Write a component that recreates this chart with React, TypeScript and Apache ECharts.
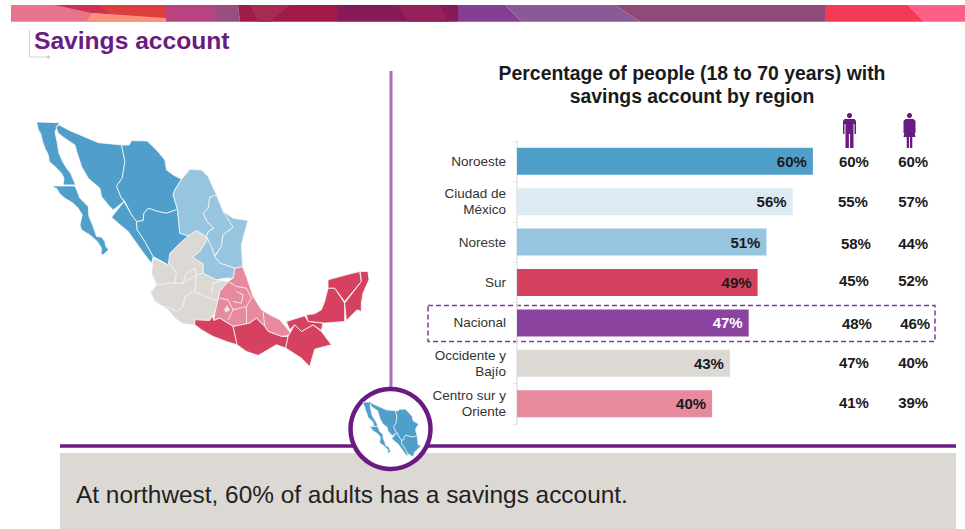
import React, { useEffect, useRef } from "react";
import * as echarts from "echarts";

const categories = ["Noroeste", "Ciudad de\nMéxico", "Noreste", "Sur", "Nacional", "Occidente y\nBajío", "Centro sur y\nOriente"];
// bar lengths; their labels show them rounded
const totals = [59.9, 55.8, 50.5, 48.7, 46.9, 43.1, 39.5];
const men = [60, 55, 58, 45, 48, 47, 41];
const women = [60, 57, 44, 52, 46, 40, 39];
const barColors = ["#4f9fca", "#dbeaf3", "#97c5df", "#d5415e", "#8a44a0", "#dcd9d5", "#e88a9e"];
const labelColors = ["#1a1a1a", "#1a1a1a", "#1a1a1a", "#1a1a1a", "#ffffff", "#1a1a1a", "#1a1a1a"];

const FONT = '"Liberation Sans", Arial, sans-serif';
const PURPLE = "#6a1b82";
const BLUE = "#4f9fca", LIGHT = "#97c5df", GREY = "#dcd9d5", PINK = "#e88a9e", RED = "#d5415e";

// hand placement of the side columns' labels in the source slide
const rowNudgeY = [0, 0, 1, -2, 1, -1, -1];
const menNudgeX = [0, -1, 2, 0, 3, 0, 0];
const womenNudgeX = [0, 0, 0, 0, 2, 0, 0];

// map outlines, decorative artwork, in a 3x drawing space
const northwest: number[][][] = [
  [[50,36],[118,38],[105,65],[112,100],[117,130],[128,155],[140,175],[152,190],[158,205],[167,225],[130,225],[132,205],[125,190],[105,170],[88,155],[85,135],[75,115],[68,95],[62,70],[55,60]],
  [[97,228],[165,228],[172,245],[180,265],[195,280],[205,290],[207,320],[218,345],[230,380],[245,382],[255,395],[257,408],[266,420],[250,435],[243,432],[245,415],[232,395],[210,375],[185,360],[180,345],[187,315],[175,295],[160,280],[135,265],[118,250],[112,238]],
  [[108,50],[118,45],[150,62],[235,98],[305,105],[315,155],[307,205],[290,228],[303,262],[312,275],[280,300],[265,285],[245,260],[240,235],[205,205],[185,170],[172,130],[165,105],[135,85],[115,70]],
  [[305,105],[328,105],[335,92],[382,93],[410,120],[435,150],[440,180],[460,195],[485,208],[465,240],[460,255],[473,298],[440,310],[415,305],[385,295],[372,310],[370,332],[350,335],[335,315],[315,275],[303,262],[290,228],[307,205],[315,155]],
  [[275,322],[312,275],[335,315],[350,335],[352,360],[375,395],[400,440],[395,460],[375,435],[350,400],[325,365],[295,340]],
  [[350,335],[370,332],[372,310],[385,295],[415,305],[440,310],[473,298],[480,370],[505,378],[470,410],[450,430],[445,465],[400,440],[375,395],[352,360]],
];
const northeast: number[][][] = [
  [[485,208],[510,178],[545,180],[565,200],[590,255],[570,262],[565,295],[550,310],[562,335],[582,355],[565,365],[560,380],[530,362],[505,378],[480,370],[473,298],[460,255],[465,240]],
  [[590,255],[600,280],[610,305],[640,325],[640,352],[610,375],[605,410],[590,430],[585,440],[572,405],[560,380],[565,365],[582,355],[562,335],[550,310],[565,295],[570,262]],
  [[610,305],[640,325],[685,332],[675,365],[665,405],[668,470],[645,475],[600,460],[585,440],[605,410],[610,375],[640,352]],
  [[560,380],[572,405],[585,440],[600,460],[645,475],[640,505],[615,505],[590,510],[550,490],[550,462],[518,442],[540,425],[560,395]],
];
const west: number[][][] = [
  [[505,378],[510,365],[530,362],[560,380],[560,395],[540,425],[518,442],[550,462],[550,490],[590,510],[625,515],[600,545],[595,570],[585,610],[578,618],[570,632],[525,632],[525,645],[490,642],[465,625],[445,600],[430,590],[405,575],[392,548],[410,525],[395,490],[400,445],[445,465],[450,430],[470,410]],
];
const westLines: number[][][] = [
  [[410,525],[450,520],[490,520],[530,495],[550,490]],
  [[450,460],[470,490],[465,520]],
  [[490,520],[500,490],[525,475],[530,495]],
  [[530,495],[525,545],[580,570],[595,570]],
  [[525,545],[495,560],[490,590],[470,605],[440,590],[430,590]],
  [[575,550],[580,520],[610,510]],
];
const center: number[][][] = [
  [[645,475],[668,470],[680,500],[700,560],[725,600],[750,615],[780,630],[815,672],[800,678],[785,680],[745,665],[735,650],[710,625],[690,640],[640,650],[600,625],[582,632],[585,610],[595,570],[600,545],[625,515],[640,505]],
];
const centerLines: number[][][] = [
  [[625,515],[650,530],[680,535],[695,565],[680,590],[640,600]],
  [[600,565],[625,570],[640,600],[625,630]],
  [[650,545],[670,555],[665,580],[640,575]],
  [[680,590],[680,640]],
  [[730,605],[735,650]],
];
const cdmx: number[][][] = [[[622,588],[630,600],[620,608],[613,600]]];
const south: number[][][] = [
  [[525,630],[570,632],[578,618],[582,632],[600,625],[640,650],[652,705],[620,695],[580,680],[545,660],[525,645]],
  [[640,650],[690,640],[710,625],[735,650],[745,665],[785,680],[805,680],[798,715],[770,705],[715,737],[680,725],[652,705]],
  [[805,680],[825,645],[845,665],[880,645],[905,665],[935,705],[885,718],[870,770],[845,745],[798,715]],
  [[800,635],[855,618],[865,635],[910,640],[905,662],[880,645],[845,665],[825,645],[810,660]],
  [[860,615],[885,612],[905,600],[915,575],[925,535],[945,535],[975,580],[975,635],[915,640],[870,635],[865,635]],
  [[925,510],[980,495],[1020,485],[1025,515],[975,575],[945,535],[925,535]],
  [[1022,485],[1045,485],[1048,510],[1030,550],[1025,580],[1025,605],[1012,600],[980,632],[975,580],[1025,515]],
];

const polys = (list: number[][][], fill: string, lineWidth: number) =>
  list.map((points) => ({ type: "polygon", shape: { points }, style: { fill, stroke: "#f4f7f8", lineWidth, lineJoin: "round" } }));
const lines = (list: number[][][], lineWidth: number) =>
  list.map((points) => ({ type: "polyline", shape: { points }, style: { fill: "none", stroke: "#f7f6f4", lineWidth } }));

// header ribbon pieces
const T = 5, B = 21.7;
const ribbon: [number[][], string][] = [
  [[[11,T],[166,T],[166,B],[11,B]], "#e8748c"],
  [[[55,T],[166,T],[166,18],[92,13]], "#cf2f52"],
  [[[98,T],[166,T],[166,18],[110,14]], "#dc3f3c"],
  [[[92,13],[166,18],[166,B],[86,B]], "#fb937c"],
  [[[166,T],[215,T],[215,B],[166,B]], "#b94480"],
  [[[215,T],[238,T],[240,B],[215,B]], "#964f80"],
  [[[238,T],[338,T],[338,B],[240,B]], "#a01a48"],
  [[[250,T],[290,T],[270,B],[258,B]], "#a62c52"],
  [[[338,T],[458,T],[458,B],[338,B]], "#861a56"],
  [[[398,T],[440,T],[448,B],[408,B]], "#95205a"],
  [[[458,T],[505,T],[522,B],[458,B]], "#843e94"],
  [[[505,T],[615,T],[640,B],[522,B]], "#8a5a96"],
  [[[615,T],[825,T],[825,B],[640,B]], "#904a78"],
  [[[825,T],[908,T],[924,B],[825,B]], "#f53a58"],
  [[[908,T],[965,T],[965,B],[924,B]], "#fd5f86"],
];

const person = (cx: number, female: boolean) => ({
  type: "group",
  x: cx,
  y: 113,
  children: [
    { type: "circle", shape: { cx: 0, cy: 2.6, r: 2.6 }, style: { fill: PURPLE } },
    {
      type: "polygon",
      shape: {
        points: female
          ? [[-4,6],[4,6],[6,8],[6,20],[4.5,20],[3.5,12],[6,24],[2.8,24],[2.8,35],[0.5,35],[0.5,24],[-0.5,24],[-0.5,35],[-2.8,35],[-2.8,24],[-6,24],[-3.5,12],[-4.5,20],[-6,20],[-6,8]]
          : [[-5,6],[5,6],[6.5,8],[6.5,21],[5,21],[5,11],[4,11],[4,35],[0.6,35],[0.6,21],[-0.6,21],[-0.6,35],[-4,35],[-4,11],[-5,11],[-5,21],[-6.5,21],[-6.5,8]],
      },
      style: { fill: PURPLE },
    },
  ],
});

const sideSeries = (values: number[], column: number, nudgeX: number[]) => ({
  type: "scatter",
  symbolSize: 0,
  silent: true,
  itemStyle: { opacity: 1 },
  data: values.map((v, i) => ({
    value: [column, i, v],
    label: { offset: [nudgeX[i], rowNudgeY[i]] },
  })),
  label: {
    show: true,
    position: "inside",
    formatter: "{@[2]}%",
    fontFamily: FONT,
    fontSize: 15,
    fontWeight: "bold",
    color: "#1a1a1a",
  },
});

export default function App() {
  const ref = useRef<HTMLDivElement>(null);
  useEffect(() => {
    const chart = echarts.init(ref.current!, null, { renderer: "svg" });
    chart.setOption({
      animation: false,
      backgroundColor: "#ffffff",
      textStyle: { fontFamily: FONT },
      grid: { left: 517, top: 141, width: 444.6, height: 283, containLabel: false },
      xAxis: { type: "value", min: 0, max: 90, show: false },
      yAxis: {
        type: "category",
        inverse: true,
        data: categories,
        axisLine: { show: true, lineStyle: { color: "#e3e3e3", width: 1.5 } },
        axisTick: { show: true, length: 4, lineStyle: { color: "#e3e3e3" } },
        axisLabel: { color: "#333333", fontSize: 13.5, fontFamily: FONT, margin: 11, lineHeight: 16, align: "right" },
        splitLine: { show: false },
      },
      series: [
        {
          type: "bar",
          barWidth: 27,
          data: totals.map((value, i) => ({
            value,
            itemStyle: { color: barColors[i] },
            label: { color: labelColors[i] },
          })),
          label: {
            show: true,
            position: "insideRight",
            distance: 6,
            formatter: (p: any) => `${Math.round(p.value)}%`,
            fontFamily: FONT,
            fontSize: 15,
            fontWeight: "bold",
          },
        },
        sideSeries(men, 68.2, menNudgeX),
        sideSeries(women, 80.2, womenNudgeX),
      ],
      graphic: [
        ...ribbon.map(([points, fill]) => ({ type: "polygon", shape: { points }, style: { fill } })),
        { type: "polyline", shape: { points: [[29.5,30],[29.5,57],[47,57]] }, style: { fill: "none", stroke: "#d5d5d5", lineWidth: 1 } },
        { type: "circle", shape: { cx: 48.5, cy: 57, r: 1.5 }, style: { fill: "#c8c8c8" } },
        { type: "text", x: 34, y: 28, style: { text: "Savings account", fill: PURPLE, font: `bold 24.6px ${FONT}` } },
        { type: "text", x: 692, y: 61, style: { text: "Percentage of people (18 to 70 years) with\nsavings account by region", fill: "#1a1a1a", font: `bold 19.4px ${FONT}`, align: "center", lineHeight: 23 } },
        { type: "line", shape: { x1: 391, y1: 71, x2: 391, y2: 390 }, style: { stroke: "#a873b8", lineWidth: 3 } },
        { type: "rect", shape: { x: 60, y: 453, width: 896, height: 76 }, style: { fill: GREY } },
        { type: "line", shape: { x1: 60, y1: 446, x2: 956, y2: 446 }, style: { stroke: PURPLE, lineWidth: 3.5 } },
        { type: "text", x: 76, y: 482, style: { text: "At northwest, 60% of adults has a savings account.", fill: "#222222", font: `24.4px ${FONT}` } },
        { type: "rect", shape: { x: 428, y: 305.5, width: 507, height: 36 }, style: { fill: "none", stroke: "#7d3a9a", lineWidth: 1.5, lineDash: [5, 3] } },
        person(849.5, false),
        person(909.5, true),
        {
          type: "group",
          x: 20,
          y: 110,
          scaleX: 1 / 3,
          scaleY: 1 / 3,
          children: [
            ...polys(west, GREY, 2.5),
            ...lines(westLines, 2.5),
            ...polys(center, PINK, 2.5),
            ...lines(centerLines, 2.5),
            ...polys(cdmx, "#dbeaf3", 1),
            ...polys(northwest, BLUE, 2.5),
            ...polys(northeast, LIGHT, 2.5),
            ...polys(south, RED, 2.5),
          ],
        },
        { type: "circle", shape: { cx: 390.5, cy: 429, r: 40 }, style: { fill: "#ffffff", stroke: PURPLE, lineWidth: 4.5 } },
        {
          type: "group",
          x: 356.6,
          y: 397.4,
          scaleX: 0.128,
          scaleY: 0.128,
          children: polys(northwest, BLUE, 5),
        },
      ],
    });
    return () => chart.dispose();
  }, []);
  return <div ref={ref} style={{ position: "absolute", left: 0, top: 0, width: 965, height: 529 }} />;
}
